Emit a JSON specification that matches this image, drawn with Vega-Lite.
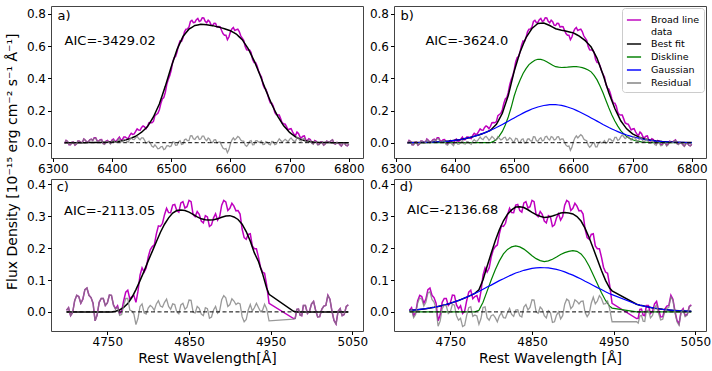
{
  "$schema": "https://vega.github.io/schema/vega-lite/v6.json",
  "background": "white",
  "padding": {"left": 5, "top": 5, "right": 5, "bottom": 5},
  "title": {"text": "Flux Density [10⁻¹⁵ erg cm⁻² s⁻¹ Å⁻¹]", "orient": "left", "anchor": "middle", "fontSize": 14, "font": "DejaVu Sans", "fontWeight": "normal", "offset": 6, "dx": 24},
  "config": {
    "font": "DejaVu Sans",
    "view": {"stroke": "#444444", "strokeWidth": 1},
    "axis": {"grid": false, "domain": false, "tickColor": "#000000", "tickSize": 3.5, "labelFontSize": 12, "labelColor": "#000000", "labelFont": "DejaVu Sans", "titleFont": "DejaVu Sans", "titleFontWeight": "normal", "titleFontSize": 14, "titleColor": "#000000", "labelPadding": 2, "labelFlush": false, "labelOverlap": false},
    "text": {"font": "DejaVu Sans", "fontSize": 13, "color": "#000000"}
  },
  "datasets": {
    "ha": [
      {"x":6320,"d":-0.005,"ra":-0.005,"rb":-0.006,"fa":0,"fb":0.0005,"dk":0,"g":0.0005},
      {"x":6325,"d":0.008,"ra":0.008,"rb":0.007,"fa":0,"fb":0.001,"dk":0,"g":0.0008},
      {"x":6330,"d":-0.012,"ra":-0.012,"rb":-0.013,"fa":0,"fb":0.001,"dk":0,"g":0.001},
      {"x":6335,"d":0.004,"ra":0.004,"rb":0.003,"fa":0,"fb":0.0012,"dk":0,"g":0.0012},
      {"x":6340,"d":-0.008,"ra":-0.008,"rb":-0.009,"fa":0,"fb":0.0014,"dk":0,"g":0.0014},
      {"x":6345,"d":0.010,"ra":0.010,"rb":0.008,"fa":0,"fb":0.0017,"dk":0,"g":0.0017},
      {"x":6350,"d":0.002,"ra":0.002,"rb":0.000,"fa":0,"fb":0.002,"dk":0,"g":0.002},
      {"x":6355,"d":0.015,"ra":0.015,"rb":0.012,"fa":0,"fb":0.0025,"dk":0,"g":0.0025},
      {"x":6360,"d":0.006,"ra":0.005,"rb":0.003,"fa":0.001,"fb":0.003,"dk":0,"g":0.003},
      {"x":6365,"d":0.022,"ra":0.021,"rb":0.018,"fa":0.001,"fb":0.004,"dk":0,"g":0.004},
      {"x":6370,"d":0.030,"ra":0.029,"rb":0.025,"fa":0.001,"fb":0.005,"dk":0,"g":0.005},
      {"x":6375,"d":0.012,"ra":0.010,"rb":0.006,"fa":0.0015,"fb":0.006,"dk":0,"g":0.006},
      {"x":6380,"d":0.018,"ra":0.016,"rb":0.011,"fa":0.002,"fb":0.007,"dk":0,"g":0.007},
      {"x":6385,"d":-0.004,"ra":-0.006,"rb":-0.012,"fa":0.0025,"fb":0.0085,"dk":0,"g":0.0085},
      {"x":6390,"d":0.010,"ra":0.007,"rb":0.000,"fa":0.003,"fb":0.010,"dk":0,"g":0.010},
      {"x":6395,"d":0.003,"ra":-0.001,"rb":-0.010,"fa":0.004,"fb":0.0125,"dk":0,"g":0.0125},
      {"x":6400,"d":0.016,"ra":0.011,"rb":0.001,"fa":0.005,"fb":0.015,"dk":0,"g":0.015},
      {"x":6405,"d":0.008,"ra":0.002,"rb":-0.010,"fa":0.0065,"fb":0.0175,"dk":0,"g":0.0175},
      {"x":6410,"d":0.024,"ra":0.016,"rb":0.004,"fa":0.008,"fb":0.020,"dk":0,"g":0.020},
      {"x":6415,"d":0.018,"ra":0.007,"rb":-0.006,"fa":0.011,"fb":0.024,"dk":0,"g":0.024},
      {"x":6420,"d":0.035,"ra":0.021,"rb":0.007,"fa":0.014,"fb":0.028,"dk":0,"g":0.028},
      {"x":6425,"d":0.028,"ra":0.009,"rb":-0.005,"fa":0.019,"fb":0.0325,"dk":0,"g":0.0325},
      {"x":6430,"d":0.046,"ra":0.022,"rb":0.009,"fa":0.024,"fb":0.037,"dk":0,"g":0.037},
      {"x":6435,"d":0.052,"ra":0.020,"rb":0.010,"fa":0.032,"fb":0.0425,"dk":0,"g":0.0425},
      {"x":6440,"d":0.070,"ra":0.030,"rb":0.022,"fa":0.04,"fb":0.048,"dk":0,"g":0.048},
      {"x":6445,"d":0.078,"ra":0.026,"rb":0.024,"fa":0.0525,"fb":0.0545,"dk":0,"g":0.0545},
      {"x":6450,"d":0.095,"ra":0.030,"rb":0.034,"fa":0.065,"fb":0.061,"dk":0,"g":0.061},
      {"x":6455,"d":0.098,"ra":0.016,"rb":0.029,"fa":0.0825,"fb":0.069,"dk":0,"g":0.069},
      {"x":6460,"d":0.102,"ra":0.002,"rb":0.025,"fa":0.10,"fb":0.077,"dk":0,"g":0.077},
      {"x":6465,"d":0.125,"ra":-0.005,"rb":0.030,"fa":0.13,"fb":0.0955,"dk":0.008,"g":0.0855},
      {"x":6470,"d":0.132,"ra":-0.028,"rb":0.018,"fa":0.16,"fb":0.114,"dk":0.02,"g":0.094},
      {"x":6475,"d":0.175,"ra":-0.025,"rb":0.027,"fa":0.20,"fb":0.1485,"dk":0.042,"g":0.1035},
      {"x":6480,"d":0.205,"ra":-0.035,"rb":0.022,"fa":0.24,"fb":0.183,"dk":0.07,"g":0.113},
      {"x":6485,"d":0.272,"ra":-0.023,"rb":0.034,"fa":0.295,"fb":0.238,"dk":0.11,"g":0.123},
      {"x":6490,"d":0.312,"ra":-0.038,"rb":0.019,"fa":0.35,"fb":0.293,"dk":0.16,"g":0.133},
      {"x":6495,"d":0.392,"ra":-0.018,"rb":0.024,"fa":0.41,"fb":0.3685,"dk":0.22,"g":0.1435},
      {"x":6500,"d":0.450,"ra":-0.020,"rb":0.006,"fa":0.47,"fb":0.444,"dk":0.29,"g":0.154},
      {"x":6505,"d":0.528,"ra":0.003,"rb":0.024,"fa":0.525,"fb":0.504,"dk":0.345,"g":0.164},
      {"x":6510,"d":0.565,"ra":-0.015,"rb":0.001,"fa":0.58,"fb":0.564,"dk":0.39,"g":0.174},
      {"x":6515,"d":0.632,"ra":0.012,"rb":0.024,"fa":0.62,"fb":0.6085,"dk":0.43,"g":0.1835},
      {"x":6520,"d":0.652,"ra":-0.008,"rb":-0.001,"fa":0.66,"fb":0.653,"dk":0.46,"g":0.193},
      {"x":6525,"d":0.705,"ra":0.023,"rb":0.024,"fa":0.6825,"fb":0.681,"dk":0.485,"g":0.201},
      {"x":6530,"d":0.718,"ra":0.013,"rb":0.009,"fa":0.705,"fb":0.709,"dk":0.50,"g":0.209},
      {"x":6535,"d":0.760,"ra":0.044,"rb":0.036,"fa":0.7165,"fb":0.7245,"dk":0.512,"g":0.2155},
      {"x":6540,"d":0.748,"ra":0.020,"rb":0.008,"fa":0.728,"fb":0.740,"dk":0.518,"g":0.222},
      {"x":6545,"d":0.772,"ra":0.040,"rb":0.031,"fa":0.7315,"fb":0.7415,"dk":0.517,"g":0.2265},
      {"x":6550,"d":0.758,"ra":0.023,"rb":0.015,"fa":0.735,"fb":0.743,"dk":0.512,"g":0.231},
      {"x":6555,"d":0.775,"ra":0.041,"rb":0.040,"fa":0.734,"fb":0.7355,"dk":0.503,"g":0.2335},
      {"x":6560,"d":0.745,"ra":0.012,"rb":0.017,"fa":0.733,"fb":0.728,"dk":0.492,"g":0.236},
      {"x":6565,"d":0.752,"ra":0.022,"rb":0.034,"fa":0.73,"fb":0.718,"dk":0.481,"g":0.236},
      {"x":6570,"d":0.728,"ra":0.001,"rb":0.020,"fa":0.727,"fb":0.708,"dk":0.472,"g":0.236},
      {"x":6575,"d":0.740,"ra":0.018,"rb":0.037,"fa":0.7225,"fb":0.7035,"dk":0.469,"g":0.234},
      {"x":6580,"d":0.722,"ra":0.004,"rb":0.023,"fa":0.718,"fb":0.699,"dk":0.467,"g":0.232},
      {"x":6585,"d":0.698,"ra":-0.015,"rb":0.003,"fa":0.713,"fb":0.695,"dk":0.468,"g":0.227},
      {"x":6590,"d":0.668,"ra":-0.040,"rb":-0.023,"fa":0.708,"fb":0.691,"dk":0.469,"g":0.222},
      {"x":6595,"d":0.640,"ra":-0.062,"rb":-0.047,"fa":0.7015,"fb":0.6865,"dk":0.471,"g":0.2155},
      {"x":6600,"d":0.688,"ra":-0.007,"rb":0.006,"fa":0.695,"fb":0.682,"dk":0.473,"g":0.209},
      {"x":6605,"d":0.715,"ra":0.030,"rb":0.043,"fa":0.685,"fb":0.672,"dk":0.472,"g":0.2005},
      {"x":6610,"d":0.702,"ra":0.027,"rb":0.040,"fa":0.675,"fb":0.662,"dk":0.47,"g":0.192},
      {"x":6615,"d":0.690,"ra":0.033,"rb":0.042,"fa":0.6575,"fb":0.648,"dk":0.466,"g":0.183},
      {"x":6620,"d":0.650,"ra":0.010,"rb":0.016,"fa":0.64,"fb":0.634,"dk":0.46,"g":0.174},
      {"x":6625,"d":0.598,"ra":-0.015,"rb":-0.016,"fa":0.6125,"fb":0.614,"dk":0.452,"g":0.164},
      {"x":6630,"d":0.575,"ra":-0.010,"rb":-0.019,"fa":0.585,"fb":0.594,"dk":0.44,"g":0.154},
      {"x":6635,"d":0.560,"ra":0.013,"rb":0.001,"fa":0.5475,"fb":0.559,"dk":0.418,"g":0.144},
      {"x":6640,"d":0.498,"ra":-0.012,"rb":-0.026,"fa":0.51,"fb":0.524,"dk":0.39,"g":0.134},
      {"x":6645,"d":0.478,"ra":0.013,"rb":0.005,"fa":0.465,"fb":0.4735,"dk":0.352,"g":0.1235},
      {"x":6650,"d":0.425,"ra":0.005,"rb":0.002,"fa":0.42,"fb":0.423,"dk":0.31,"g":0.113},
      {"x":6655,"d":0.362,"ra":-0.011,"rb":-0.004,"fa":0.3725,"fb":0.366,"dk":0.262,"g":0.1035},
      {"x":6660,"d":0.332,"ra":0.007,"rb":0.023,"fa":0.325,"fb":0.309,"dk":0.215,"g":0.094},
      {"x":6665,"d":0.272,"ra":-0.009,"rb":0.012,"fa":0.281,"fb":0.2605,"dk":0.172,"g":0.0855},
      {"x":6670,"d":0.245,"ra":0.008,"rb":0.033,"fa":0.237,"fb":0.212,"dk":0.135,"g":0.077},
      {"x":6675,"d":0.188,"ra":-0.012,"rb":0.014,"fa":0.20,"fb":0.174,"dk":0.103,"g":0.069},
      {"x":6680,"d":0.172,"ra":0.009,"rb":0.036,"fa":0.163,"fb":0.136,"dk":0.075,"g":0.061},
      {"x":6685,"d":0.148,"ra":0.014,"rb":0.037,"fa":0.134,"fb":0.111,"dk":0.055,"g":0.0545},
      {"x":6690,"d":0.118,"ra":0.013,"rb":0.032,"fa":0.105,"fb":0.086,"dk":0.038,"g":0.048},
      {"x":6695,"d":0.098,"ra":0.014,"rb":0.028,"fa":0.0845,"fb":0.0705,"dk":0.027,"g":0.0425},
      {"x":6700,"d":0.085,"ra":0.021,"rb":0.030,"fa":0.064,"fb":0.055,"dk":0.018,"g":0.037},
      {"x":6705,"d":0.068,"ra":0.018,"rb":0.023,"fa":0.05,"fb":0.0455,"dk":0.012,"g":0.0325},
      {"x":6710,"d":0.045,"ra":0.009,"rb":0.009,"fa":0.036,"fb":0.036,"dk":0.008,"g":0.028},
      {"x":6715,"d":0.058,"ra":0.031,"rb":0.029,"fa":0.0275,"fb":0.0295,"dk":0.005,"g":0.024},
      {"x":6720,"d":0.030,"ra":0.011,"rb":0.007,"fa":0.019,"fb":0.023,"dk":0.003,"g":0.020},
      {"x":6725,"d":0.042,"ra":0.028,"rb":0.023,"fa":0.014,"fb":0.0195,"dk":0.002,"g":0.0175},
      {"x":6730,"d":0.012,"ra":0.003,"rb":-0.004,"fa":0.009,"fb":0.016,"dk":0.001,"g":0.015},
      {"x":6735,"d":0.020,"ra":0.014,"rb":0.007,"fa":0.0065,"fb":0.013,"dk":0.0005,"g":0.0125},
      {"x":6740,"d":-0.006,"ra":-0.010,"rb":-0.016,"fa":0.004,"fb":0.010,"dk":0,"g":0.010},
      {"x":6745,"d":0.008,"ra":0.005,"rb":0.000,"fa":0.003,"fb":0.0085,"dk":0,"g":0.0085},
      {"x":6750,"d":-0.010,"ra":-0.012,"rb":-0.017,"fa":0.002,"fb":0.007,"dk":0,"g":0.007},
      {"x":6755,"d":0.004,"ra":0.003,"rb":-0.002,"fa":0.0015,"fb":0.006,"dk":0,"g":0.006},
      {"x":6760,"d":-0.008,"ra":-0.009,"rb":-0.013,"fa":0.001,"fb":0.005,"dk":0,"g":0.005},
      {"x":6765,"d":0.006,"ra":0.006,"rb":0.002,"fa":0.0005,"fb":0.004,"dk":0,"g":0.004},
      {"x":6770,"d":0.012,"ra":0.012,"rb":0.009,"fa":0,"fb":0.003,"dk":0,"g":0.003},
      {"x":6775,"d":-0.004,"ra":-0.004,"rb":-0.007,"fa":0,"fb":0.0025,"dk":0,"g":0.0025},
      {"x":6780,"d":0.002,"ra":0.002,"rb":0.000,"fa":0,"fb":0.002,"dk":0,"g":0.002},
      {"x":6785,"d":-0.012,"ra":-0.012,"rb":-0.014,"fa":0,"fb":0.0017,"dk":0,"g":0.0017},
      {"x":6790,"d":-0.006,"ra":-0.006,"rb":-0.007,"fa":0,"fb":0.0014,"dk":0,"g":0.0014},
      {"x":6795,"d":-0.015,"ra":-0.015,"rb":-0.016,"fa":0,"fb":0.0011,"dk":0,"g":0.0011},
      {"x":6800,"d":-0.010,"ra":-0.010,"rb":-0.011,"fa":0,"fb":0.0008,"dk":0,"g":0.0008},
      {"x":6322.5,"d":0.014,"ra":0.014,"rb":0.013},
      {"x":6327.5,"d":-0.012,"ra":-0.012,"rb":-0.013},
      {"x":6332.5,"d":0.003,"ra":0.003,"rb":0.002},
      {"x":6337.5,"d":-0.015,"ra":-0.015,"rb":-0.016},
      {"x":6342.5,"d":0.011,"ra":0.011,"rb":0.010},
      {"x":6347.5,"d":0.001,"ra":0.001,"rb":-0.001},
      {"x":6352.5,"d":0.023,"ra":0.023,"rb":0.020},
      {"x":6357.5,"d":0.003,"ra":0.002,"rb":-0.001},
      {"x":6362.5,"d":0.018,"ra":0.017,"rb":0.015},
      {"x":6367.5,"d":0.014,"ra":0.013,"rb":0.010},
      {"x":6372.5,"d":0.030,"ra":0.029,"rb":0.025},
      {"x":6377.5,"d":0.009,"ra":0.007,"rb":0.003},
      {"x":6382.5,"d":0.019,"ra":0.017,"rb":0.012},
      {"x":6387.5,"d":-0.007,"ra":-0.010,"rb":-0.016},
      {"x":6392.5,"d":0.014,"ra":0.010,"rb":0.002},
      {"x":6397.5,"d":-0.004,"ra":-0.008,"rb":-0.018},
      {"x":6402.5,"d":0.022,"ra":0.017,"rb":0.006},
      {"x":6407.5,"d":0.011,"ra":0.004,"rb":-0.008},
      {"x":6412.5,"d":0.035,"ra":0.026,"rb":0.013},
      {"x":6417.5,"d":0.019,"ra":0.006,"rb":-0.008},
      {"x":6422.5,"d":0.036,"ra":0.019,"rb":0.005},
      {"x":6427.5,"d":0.025,"ra":0.004,"rb":-0.010},
      {"x":6432.5,"d":0.058,"ra":0.030,"rb":0.019},
      {"x":6437.5,"d":0.055,"ra":0.019,"rb":0.010},
      {"x":6442.5,"d":0.086,"ra":0.040,"rb":0.035},
      {"x":6447.5,"d":0.077,"ra":0.018,"rb":0.019},
      {"x":6452.5,"d":0.104,"ra":0.030,"rb":0.039},
      {"x":6457.5,"d":0.087,"ra":-0.004,"rb":0.014},
      {"x":6462.5,"d":0.124,"ra":0.009,"rb":0.038},
      {"x":6467.5,"d":0.124,"ra":-0.022,"rb":0.019},
      {"x":6472.5,"d":0.168,"ra":-0.013,"rb":0.037},
      {"x":6477.5,"d":0.182,"ra":-0.038,"rb":0.017},
      {"x":6482.5,"d":0.243,"ra":-0.025,"rb":0.032},
      {"x":6487.5,"d":0.280,"ra":-0.043,"rb":0.015},
      {"x":6492.5,"d":0.361,"ra":-0.019,"rb":0.031},
      {"x":6497.5,"d":0.415,"ra":-0.025,"rb":0.009},
      {"x":6502.5,"d":0.501,"ra":0.004,"rb":0.027},
      {"x":6507.5,"d":0.537,"ra":-0.016,"rb":0.003},
      {"x":6512.5,"d":0.606,"ra":0.006,"rb":0.020},
      {"x":6517.5,"d":0.629,"ra":-0.011,"rb":-0.002},
      {"x":6522.5,"d":0.689,"ra":0.018,"rb":0.022},
      {"x":6527.5,"d":0.707,"ra":0.013,"rb":0.012},
      {"x":6532.5,"d":0.753,"ra":0.043,"rb":0.037},
      {"x":6537.5,"d":0.746,"ra":0.024,"rb":0.014},
      {"x":6542.5,"d":0.764,"ra":0.034,"rb":0.024},
      {"x":6547.5,"d":0.753,"ra":0.020,"rb":0.011},
      {"x":6552.5,"d":0.776,"ra":0.041,"rb":0.037},
      {"x":6557.5,"d":0.754,"ra":0.021,"rb":0.023},
      {"x":6562.5,"d":0.761,"ra":0.029,"rb":0.038},
      {"x":6567.5,"d":0.730,"ra":0.002,"rb":0.017},
      {"x":6572.5,"d":0.741,"ra":0.017,"rb":0.036},
      {"x":6577.5,"d":0.718,"ra":-0.002,"rb":0.017},
      {"x":6582.5,"d":0.720,"ra":0.005,"rb":0.023},
      {"x":6587.5,"d":0.678,"ra":-0.033,"rb":-0.015},
      {"x":6592.5,"d":0.668,"ra":-0.037,"rb":-0.021},
      {"x":6597.5,"d":0.656,"ra":-0.043,"rb":-0.029},
      {"x":6602.5,"d":0.706,"ra":0.016,"rb":0.029},
      {"x":6607.5,"d":0.697,"ra":0.017,"rb":0.030},
      {"x":6612.5,"d":0.705,"ra":0.039,"rb":0.050},
      {"x":6617.5,"d":0.664,"ra":0.016,"rb":0.023},
      {"x":6622.5,"d":0.636,"ra":0.010,"rb":0.012},
      {"x":6627.5,"d":0.577,"ra":-0.023,"rb":-0.028},
      {"x":6632.5,"d":0.575,"ra":0.009,"rb":-0.002},
      {"x":6637.5,"d":0.516,"ra":-0.013,"rb":-0.026},
      {"x":6642.5,"d":0.498,"ra":0.011,"rb":-0.001},
      {"x":6647.5,"d":0.447,"ra":0.004,"rb":-0.002},
      {"x":6652.5,"d":0.408,"ra":0.011,"rb":0.013},
      {"x":6657.5,"d":0.339,"ra":-0.010,"rb":0.002},
      {"x":6662.5,"d":0.306,"ra":0.003,"rb":0.022},
      {"x":6667.5,"d":0.247,"ra":-0.013,"rb":0.011},
      {"x":6672.5,"d":0.226,"ra":0.007,"rb":0.033},
      {"x":6677.5,"d":0.174,"ra":-0.008,"rb":0.019},
      {"x":6682.5,"d":0.172,"ra":0.024,"rb":0.049},
      {"x":6687.5,"d":0.123,"ra":0.004,"rb":0.025},
      {"x":6692.5,"d":0.115,"ra":0.021,"rb":0.037},
      {"x":6697.5,"d":0.079,"ra":0.005,"rb":0.016},
      {"x":6702.5,"d":0.087,"ra":0.030,"rb":0.037},
      {"x":6707.5,"d":0.052,"ra":0.009,"rb":0.011},
      {"x":6712.5,"d":0.066,"ra":0.034,"rb":0.033},
      {"x":6717.5,"d":0.036,"ra":0.013,"rb":0.010},
      {"x":6722.5,"d":0.040,"ra":0.024,"rb":0.019},
      {"x":6727.5,"d":0.015,"ra":0.004,"rb":-0.003},
      {"x":6732.5,"d":0.025,"ra":0.018,"rb":0.011},
      {"x":6737.5,"d":0.001,"ra":-0.004,"rb":-0.011},
      {"x":6742.5,"d":0.013,"ra":0.010,"rb":0.004},
      {"x":6747.5,"d":-0.011,"ra":-0.014,"rb":-0.019},
      {"x":6752.5,"d":0.004,"ra":0.003,"rb":-0.003},
      {"x":6757.5,"d":-0.015,"ra":-0.016,"rb":-0.021},
      {"x":6762.5,"d":0.009,"ra":0.009,"rb":0.005},
      {"x":6767.5,"d":0.004,"ra":0.004,"rb":0.001},
      {"x":6772.5,"d":0.018,"ra":0.018,"rb":0.015},
      {"x":6777.5,"d":-0.009,"ra":-0.009,"rb":-0.012},
      {"x":6782.5,"d":-0.001,"ra":-0.001,"rb":-0.003},
      {"x":6787.5,"d":-0.021,"ra":-0.021,"rb":-0.023},
      {"x":6792.5,"d":-0.002,"ra":-0.002,"rb":-0.003},
      {"x":6797.5,"d":-0.019,"ra":-0.019,"rb":-0.020}
    ],
    "hb": [
      {"x":4700,"d":0.005,"rc":0.005,"rd":0.000,"fc":0,"fd":0.0046,"dk":0,"g":0.0046},
      {"x":4705,"d":-0.012,"rc":-0.012,"rd":-0.018,"fc":0,"fd":0.0057,"dk":0,"g":0.0057},
      {"x":4710,"d":0.035,"rc":0.035,"rd":0.028,"fc":0,"fd":0.0069,"dk":0,"g":0.0069},
      {"x":4715,"d":0.048,"rc":0.048,"rd":0.040,"fc":0,"fd":0.0084,"dk":0,"g":0.0084},
      {"x":4720,"d":0.040,"rc":0.040,"rd":0.030,"fc":0,"fd":0.0101,"dk":0,"g":0.0101},
      {"x":4725,"d":0.075,"rc":0.075,"rd":0.063,"fc":0,"fd":0.0121,"dk":0,"g":0.0121},
      {"x":4730,"d":0.045,"rc":0.045,"rd":0.031,"fc":0,"fd":0.0144,"dk":0,"g":0.0144},
      {"x":4735,"d":-0.028,"rc":-0.028,"rd":-0.045,"fc":0,"fd":0.017,"dk":0,"g":0.017},
      {"x":4740,"d":0.030,"rc":0.030,"rd":0.010,"fc":0,"fd":0.020,"dk":0,"g":0.020},
      {"x":4745,"d":0.042,"rc":0.042,"rd":0.019,"fc":0,"fd":0.0234,"dk":0,"g":0.0234},
      {"x":4750,"d":0.028,"rc":0.028,"rd":0.001,"fc":0,"fd":0.0272,"dk":0,"g":0.0272},
      {"x":4755,"d":0.052,"rc":0.052,"rd":0.021,"fc":0,"fd":0.0314,"dk":0,"g":0.0314},
      {"x":4760,"d":0.010,"rc":0.008,"rd":-0.026,"fc":0.002,"fd":0.0359,"dk":0,"g":0.0359},
      {"x":4765,"d":-0.005,"rc":-0.011,"rd":-0.046,"fc":0.006,"fd":0.0409,"dk":0,"g":0.0409},
      {"x":4770,"d":0.035,"rc":0.021,"rd":-0.011,"fc":0.014,"fd":0.0462,"dk":0,"g":0.0462},
      {"x":4775,"d":0.068,"rc":0.042,"rd":0.016,"fc":0.026,"fd":0.052,"dk":0,"g":0.052},
      {"x":4780,"d":0.048,"rc":0.003,"rd":-0.010,"fc":0.045,"fd":0.058,"dk":0,"g":0.058},
      {"x":4785,"d":0.030,"rc":-0.040,"rd":-0.039,"fc":0.07,"fd":0.069,"dk":0.005,"g":0.064},
      {"x":4790,"d":0.115,"rc":0.017,"rd":0.014,"fc":0.098,"fd":0.101,"dk":0.03,"g":0.071},
      {"x":4795,"d":0.125,"rc":-0.003,"rd":-0.018,"fc":0.128,"fd":0.143,"dk":0.065,"g":0.078},
      {"x":4800,"d":0.172,"rc":0.012,"rd":-0.012,"fc":0.16,"fd":0.184,"dk":0.10,"g":0.084},
      {"x":4805,"d":0.205,"rc":0.015,"rd":-0.018,"fc":0.19,"fd":0.223,"dk":0.132,"g":0.091},
      {"x":4810,"d":0.245,"rc":0.025,"rd":-0.013,"fc":0.22,"fd":0.258,"dk":0.16,"g":0.098},
      {"x":4815,"d":0.268,"rc":0.018,"rd":-0.018,"fc":0.25,"fd":0.286,"dk":0.182,"g":0.104},
      {"x":4820,"d":0.305,"rc":0.030,"rd":-0.002,"fc":0.275,"fd":0.3065,"dk":0.196,"g":0.1105},
      {"x":4825,"d":0.312,"rc":0.017,"rd":-0.008,"fc":0.295,"fd":0.32,"dk":0.204,"g":0.116},
      {"x":4830,"d":0.335,"rc":0.025,"rd":0.006,"fc":0.31,"fd":0.329,"dk":0.207,"g":0.122},
      {"x":4835,"d":0.318,"rc":0.000,"rd":-0.012,"fc":0.318,"fd":0.33,"dk":0.204,"g":0.126},
      {"x":4840,"d":0.342,"rc":0.022,"rd":0.015,"fc":0.32,"fd":0.3275,"dk":0.197,"g":0.1305},
      {"x":4845,"d":0.326,"rc":0.008,"rd":0.006,"fc":0.318,"fd":0.3205,"dk":0.187,"g":0.1335},
      {"x":4850,"d":0.350,"rc":0.037,"rd":0.038,"fc":0.313,"fd":0.3124,"dk":0.176,"g":0.1364},
      {"x":4855,"d":0.305,"rc":-0.001,"rd":0.000,"fc":0.306,"fd":0.305,"dk":0.167,"g":0.138},
      {"x":4860,"d":0.315,"rc":0.017,"rd":0.015,"fc":0.298,"fd":0.300,"dk":0.161,"g":0.139},
      {"x":4865,"d":0.285,"rc":-0.007,"rd":-0.012,"fc":0.292,"fd":0.2965,"dk":0.158,"g":0.1385},
      {"x":4870,"d":0.302,"rc":0.013,"rd":0.004,"fc":0.289,"fd":0.2978,"dk":0.16,"g":0.1378},
      {"x":4875,"d":0.268,"rc":-0.020,"rd":-0.033,"fc":0.288,"fd":0.301,"dk":0.165,"g":0.136},
      {"x":4880,"d":0.295,"rc":0.006,"rd":-0.010,"fc":0.289,"fd":0.3053,"dk":0.172,"g":0.1333},
      {"x":4885,"d":0.288,"rc":-0.004,"rd":-0.022,"fc":0.292,"fd":0.31,"dk":0.18,"g":0.13},
      {"x":4890,"d":0.335,"rc":0.038,"rd":0.024,"fc":0.297,"fd":0.3115,"dk":0.186,"g":0.1255},
      {"x":4895,"d":0.345,"rc":0.044,"rd":0.035,"fc":0.301,"fd":0.31,"dk":0.19,"g":0.12},
      {"x":4900,"d":0.325,"rc":0.023,"rd":0.018,"fc":0.302,"fd":0.3072,"dk":0.192,"g":0.1152},
      {"x":4905,"d":0.332,"rc":0.034,"rd":0.033,"fc":0.298,"fd":0.299,"dk":0.19,"g":0.109},
      {"x":4910,"d":0.318,"rc":0.028,"rd":0.033,"fc":0.29,"fd":0.285,"dk":0.182,"g":0.103},
      {"x":4915,"d":0.260,"rc":-0.015,"rd":-0.002,"fc":0.275,"fd":0.262,"dk":0.166,"g":0.096},
      {"x":4920,"d":0.228,"rc":-0.024,"rd":-0.005,"fc":0.252,"fd":0.2327,"dk":0.143,"g":0.0897},
      {"x":4925,"d":0.245,"rc":0.023,"rd":0.046,"fc":0.222,"fd":0.199,"dk":0.116,"g":0.083},
      {"x":4930,"d":0.198,"rc":0.013,"rd":0.034,"fc":0.185,"fd":0.1642,"dk":0.088,"g":0.0762},
      {"x":4935,"d":0.172,"rc":0.014,"rd":0.042,"fc":0.158,"fd":0.13,"dk":0.06,"g":0.07},
      {"x":4940,"d":0.125,"rc":0.005,"rd":0.026,"fc":0.12,"fd":0.099,"dk":0.036,"g":0.063},
      {"x":4945,"d":0.085,"rc":0.010,"rd":0.010,"fc":0.075,"fd":0.075,"dk":0.018,"g":0.057},
      {"x":4948,"d":0.027,"rc":-0.028,"rd":-0.031,"fc":0.055,"fd":0.066,"dk":0.012,"g":0.054},
      {"x":4978,"d":-0.021,"rc":-0.023,"rd":-0.031,"fc":0.002,"fd":0.024,"dk":0,"g":0.024},
      {"x":4982,"d":0.008,"rc":0.008,"rd":-0.013,"fc":0,"fd":0.021,"dk":0,"g":0.021},
      {"x":4986,"d":-0.010,"rc":-0.010,"rd":-0.029,"fc":0,"fd":0.019,"dk":0,"g":0.019},
      {"x":4990,"d":0.020,"rc":0.020,"rd":0.004,"fc":0,"fd":0.0165,"dk":0,"g":0.0165},
      {"x":4995,"d":-0.005,"rc":-0.005,"rd":-0.019,"fc":0,"fd":0.014,"dk":0,"g":0.014},
      {"x":5000,"d":0.025,"rc":0.025,"rd":0.013,"fc":0,"fd":0.0117,"dk":0,"g":0.0117},
      {"x":5005,"d":0.005,"rc":0.005,"rd":-0.005,"fc":0,"fd":0.0098,"dk":0,"g":0.0098},
      {"x":5010,"d":-0.015,"rc":-0.015,"rd":-0.023,"fc":0,"fd":0.008,"dk":0,"g":0.008},
      {"x":5015,"d":0.018,"rc":0.018,"rd":0.011,"fc":0,"fd":0.0066,"dk":0,"g":0.0066},
      {"x":5020,"d":0.052,"rc":0.052,"rd":0.047,"fc":0,"fd":0.0054,"dk":0,"g":0.0054},
      {"x":5025,"d":0.002,"rc":0.002,"rd":-0.002,"fc":0,"fd":0.0044,"dk":0,"g":0.0044},
      {"x":5030,"d":-0.038,"rc":-0.038,"rd":-0.042,"fc":0,"fd":0.0035,"dk":0,"g":0.0035},
      {"x":5035,"d":0.010,"rc":0.010,"rd":0.007,"fc":0,"fd":0.0029,"dk":0,"g":0.0029},
      {"x":5040,"d":-0.008,"rc":-0.008,"rd":-0.010,"fc":0,"fd":0.0023,"dk":0,"g":0.0023},
      {"x":5045,"d":0.022,"rc":0.022,"rd":0.020,"fc":0,"fd":0.0018,"dk":0,"g":0.0018},
      {"x":4702.5,"d":0.013,"rc":0.013,"rd":0.007},
      {"x":4707.5,"d":-0.002,"rc":-0.002,"rd":-0.008},
      {"x":4712.5,"d":0.052,"rc":0.052,"rd":0.044},
      {"x":4717.5,"d":0.027,"rc":0.027,"rd":0.018},
      {"x":4722.5,"d":0.070,"rc":0.070,"rd":0.059},
      {"x":4727.5,"d":0.052,"rc":0.052,"rd":0.039},
      {"x":4732.5,"d":0.027,"rc":0.027,"rd":0.011},
      {"x":4737.5,"d":-0.010,"rc":-0.010,"rd":-0.029},
      {"x":4742.5,"d":0.042,"rc":0.042,"rd":0.021},
      {"x":4747.5,"d":0.020,"rc":0.020,"rd":-0.005},
      {"x":4752.5,"d":0.053,"rc":0.053,"rd":0.024},
      {"x":4757.5,"d":0.022,"rc":0.021,"rd":-0.012},
      {"x":4762.5,"d":0.019,"rc":0.015,"rd":-0.020},
      {"x":4767.5,"d":0.002,"rc":-0.008,"rd":-0.042},
      {"x":4772.5,"d":0.062,"rc":0.042,"rd":0.013},
      {"x":4777.5,"d":0.041,"rc":0.006,"rd":-0.014},
      {"x":4782.5,"d":0.051,"rc":-0.007,"rd":-0.013},
      {"x":4787.5,"d":0.065,"rc":-0.020,"rd":-0.021},
      {"x":4792.5,"d":0.138,"rc":0.025,"rd":0.016},
      {"x":4797.5,"d":0.138,"rc":-0.007,"rd":-0.026},
      {"x":4802.5,"d":0.195,"rc":0.020,"rd":-0.009},
      {"x":4807.5,"d":0.210,"rc":0.005,"rd":-0.031},
      {"x":4812.5,"d":0.270,"rc":0.035,"rd":-0.003},
      {"x":4817.5,"d":0.278,"rc":0.015,"rd":-0.019},
      {"x":4822.5,"d":0.325,"rc":0.040,"rd":0.011},
      {"x":4827.5,"d":0.311,"rc":0.008,"rd":-0.014},
      {"x":4832.5,"d":0.337,"rc":0.023,"rd":0.007},
      {"x":4837.5,"d":0.313,"rc":-0.006,"rd":-0.016},
      {"x":4842.5,"d":0.346,"rc":0.027,"rd":0.023},
      {"x":4847.5,"d":0.330,"rc":0.015,"rd":0.014},
      {"x":4852.5,"d":0.346,"rc":0.036,"rd":0.037},
      {"x":4857.5,"d":0.299,"rc":-0.003,"rd":-0.004},
      {"x":4862.5,"d":0.306,"rc":0.011,"rd":0.008},
      {"x":4867.5,"d":0.279,"rc":-0.012,"rd":-0.019},
      {"x":4872.5,"d":0.298,"rc":0.010,"rd":-0.002},
      {"x":4877.5,"d":0.273,"rc":-0.016,"rd":-0.031},
      {"x":4882.5,"d":0.308,"rc":0.017,"rd":0.000},
      {"x":4887.5,"d":0.299,"rc":0.004,"rd":-0.012},
      {"x":4892.5,"d":0.350,"rc":0.051,"rd":0.040},
      {"x":4897.5,"d":0.318,"rc":0.017,"rd":0.010},
      {"x":4902.5,"d":0.341,"rc":0.041,"rd":0.038},
      {"x":4907.5,"d":0.317,"rc":0.023,"rd":0.025},
      {"x":4912.5,"d":0.307,"rc":0.025,"rd":0.034},
      {"x":4917.5,"d":0.233,"rc":-0.031,"rd":-0.015},
      {"x":4922.5,"d":0.243,"rc":0.006,"rd":0.027},
      {"x":4927.5,"d":0.207,"rc":0.003,"rd":0.025},
      {"x":4932.5,"d":0.198,"rc":0.027,"rd":0.051},
      {"x":4937.5,"d":0.140,"rc":0.001,"rd":0.025},
      {"x":4942.5,"d":0.121,"rc":0.024,"rd":0.034},
      {"x":4980,"d":-0.020,"rc":-0.021,"rd":-0.035},
      {"x":4984,"d":0.009,"rc":0.009,"rd":-0.011},
      {"x":4988,"d":-0.012,"rc":-0.012,"rd":-0.030},
      {"x":4992.5,"d":0.020,"rc":0.020,"rd":0.005},
      {"x":4997.5,"d":0.002,"rc":0.002,"rd":-0.011},
      {"x":5002.5,"d":0.033,"rc":0.033,"rd":0.022},
      {"x":5007.5,"d":-0.016,"rc":-0.016,"rd":-0.025},
      {"x":5012.5,"d":0.008,"rc":0.008,"rd":0.000},
      {"x":5017.5,"d":0.020,"rc":0.020,"rd":0.014},
      {"x":5022.5,"d":0.040,"rc":0.040,"rd":0.036},
      {"x":5027.5,"d":-0.027,"rc":-0.027,"rd":-0.031},
      {"x":5032.5,"d":0.002,"rc":0.002,"rd":-0.002},
      {"x":5037.5,"d":-0.012,"rc":-0.012,"rd":-0.015},
      {"x":5042.5,"d":0.017,"rc":0.017,"rd":0.015}
    ]
  },
  "columns": 2,
  "spacing": {"row": 21, "column": 31},
  "bounds": "flush",
  "resolve": {"scale": {"color": "independent"}, "legend": {"color": "independent"}},
  "concat": [
    {
      "width": 312, "height": 152,
      "data": {"name": "ha"},
      "encoding": {"x": {"field": "x", "type": "quantitative", "title": null, "scale": {"domain": [6297, 6824], "nice": false, "zero": false}, "axis": {"values": [6300, 6400, 6500, 6600, 6700, 6800], "format": "d"}}},
      "layer": [
        {"mark": {"type": "line", "strokeWidth": 1.5}, "encoding": {"y": {"field": "d", "type": "quantitative", "title": null, "scale": {"domain": [-0.095, 0.849], "nice": false, "zero": false}, "axis": {"values": [0, 0.2, 0.4, 0.6, 0.8], "tickCount": 5, "labelOverlap": false, "format": ".1f"}}, "color": {"datum": "Broad line data", "scale": {"domain": ["Broad line data", "Best fit", "Diskline", "Gaussian", "Residual"], "range": ["#bf00bf", "#000000", "#008000", "#0000ff", "#808080"]}, "legend": null}}},
        {"transform": [{"filter": "isValid(datum.fa)"}], "mark": {"type": "line", "strokeWidth": 1.5}, "encoding": {"y": {"field": "fa", "type": "quantitative", "title": null}, "color": {"datum": "Best fit"}}},
        {"mark": {"type": "line", "strokeWidth": 1.3, "opacity": 0.8}, "encoding": {"y": {"field": "ra", "type": "quantitative", "title": null}, "color": {"datum": "Residual"}}},
        {"transform": [{"filter": "isValid(datum.fa)"}], "mark": {"type": "line", "strokeWidth": 1, "strokeDash": [4, 2.5], "color": "#000000"}, "encoding": {"y": {"datum": 0}}},
        {"transform": [{"filter": "datum.x == 6320"}], "mark": {"type": "text", "align": "left", "baseline": "middle", "fontSize": 13, "color": "#000000"}, "encoding": {"x": {"datum": 6308}, "y": {"datum": 0.786}, "text": {"value": "a)"}}},
        {"transform": [{"filter": "datum.x == 6320"}], "mark": {"type": "text", "align": "left", "baseline": "middle", "fontSize": 13, "color": "#000000"}, "encoding": {"x": {"datum": 6320}, "y": {"datum": 0.632}, "text": {"value": "AIC=-3429.02"}}}
      ]
    },
    {
      "width": 312, "height": 152,
      "data": {"name": "ha"},
      "encoding": {"x": {"field": "x", "type": "quantitative", "title": null, "scale": {"domain": [6297, 6824], "nice": false, "zero": false}, "axis": {"values": [6300, 6400, 6500, 6600, 6700, 6800], "format": "d"}}},
      "layer": [
        {"mark": {"type": "line", "strokeWidth": 1.5}, "encoding": {"y": {"field": "d", "type": "quantitative", "title": null, "scale": {"domain": [-0.095, 0.849], "nice": false, "zero": false}, "axis": {"values": [0, 0.2, 0.4, 0.6, 0.8], "tickCount": 5, "labelOverlap": false, "format": ".1f"}}, "color": {"datum": "Broad line data", "scale": {"domain": ["Broad line data", "Best fit", "Diskline", "Gaussian", "Residual"], "range": ["#bf00bf", "#000000", "#008000", "#0000ff", "#808080"]}, "legend": {"orient": "top-right", "title": null, "offset": 2, "symbolType": "stroke", "symbolStrokeWidth": 1.8, "symbolSize": 200, "labelFontSize": 9.5, "labelFont": "DejaVu Sans", "labelColor": "#000000", "labelOffset": 9, "strokeColor": "#cccccc", "fillColor": "#ffffff", "cornerRadius": 3, "padding": 4, "rowPadding": 0, "labelExpr": "datum.label == 'Broad line data' ? ['Broad line', ' data'] : datum.label"}}}},
        {"transform": [{"filter": "isValid(datum.fb)"}], "mark": {"type": "line", "strokeWidth": 1.5}, "encoding": {"y": {"field": "fb", "type": "quantitative", "title": null}, "color": {"datum": "Best fit"}}},
        {"transform": [{"filter": "isValid(datum.dk)"}], "mark": {"type": "line", "strokeWidth": 1.2}, "encoding": {"y": {"field": "dk", "type": "quantitative", "title": null}, "color": {"datum": "Diskline"}}},
        {"transform": [{"filter": "isValid(datum.g)"}], "mark": {"type": "line", "strokeWidth": 1.2}, "encoding": {"y": {"field": "g", "type": "quantitative", "title": null}, "color": {"datum": "Gaussian"}}},
        {"mark": {"type": "line", "strokeWidth": 1.3, "opacity": 0.8}, "encoding": {"y": {"field": "rb", "type": "quantitative", "title": null}, "color": {"datum": "Residual"}}},
        {"transform": [{"filter": "isValid(datum.fb)"}], "mark": {"type": "line", "strokeWidth": 1, "strokeDash": [4, 2.5], "color": "#000000"}, "encoding": {"y": {"datum": 0}}},
        {"transform": [{"filter": "datum.x == 6320"}], "mark": {"type": "text", "align": "left", "baseline": "middle", "fontSize": 13, "color": "#000000"}, "encoding": {"x": {"datum": 6308}, "y": {"datum": 0.786}, "text": {"value": "b)"}}},
        {"transform": [{"filter": "datum.x == 6320"}], "mark": {"type": "text", "align": "left", "baseline": "middle", "fontSize": 13, "color": "#000000"}, "encoding": {"x": {"datum": 6350}, "y": {"datum": 0.632}, "text": {"value": "AIC=-3624.0"}}}
      ]
    },
    {
      "width": 312, "height": 152,
      "data": {"name": "hb"},
      "encoding": {"x": {"field": "x", "type": "quantitative", "title": "Rest Wavelength[Å]", "scale": {"domain": [4681, 5063], "nice": false, "zero": false}, "axis": {"values": [4750, 4850, 4950, 5050], "format": "d", "titlePadding": 4}}},
      "layer": [
        {"mark": {"type": "line", "strokeWidth": 1.5}, "encoding": {"y": {"field": "d", "type": "quantitative", "title": null, "scale": {"domain": [-0.06, 0.417], "nice": false, "zero": false}, "axis": {"values": [0, 0.1, 0.2, 0.3, 0.4], "tickCount": 5, "labelOverlap": false, "format": ".1f"}}, "color": {"datum": "Broad line data", "scale": {"domain": ["Broad line data", "Best fit", "Diskline", "Gaussian", "Residual"], "range": ["#bf00bf", "#000000", "#008000", "#0000ff", "#808080"]}, "legend": null}}},
        {"transform": [{"filter": "isValid(datum.fc)"}], "mark": {"type": "line", "strokeWidth": 1.5}, "encoding": {"y": {"field": "fc", "type": "quantitative", "title": null}, "color": {"datum": "Best fit"}}},
        {"mark": {"type": "line", "strokeWidth": 1.3, "opacity": 0.8}, "encoding": {"y": {"field": "rc", "type": "quantitative", "title": null}, "color": {"datum": "Residual"}}},
        {"transform": [{"filter": "isValid(datum.fc)"}], "mark": {"type": "line", "strokeWidth": 1, "strokeDash": [4, 2.5], "color": "#000000"}, "encoding": {"y": {"datum": 0}}},
        {"transform": [{"filter": "datum.x == 4700"}], "mark": {"type": "text", "align": "left", "baseline": "middle", "fontSize": 13, "color": "#000000"}, "encoding": {"x": {"datum": 4688}, "y": {"datum": 0.393}, "text": {"value": "c)"}}},
        {"transform": [{"filter": "datum.x == 4700"}], "mark": {"type": "text", "align": "left", "baseline": "middle", "fontSize": 13, "color": "#000000"}, "encoding": {"x": {"datum": 4697}, "y": {"datum": 0.316}, "text": {"value": "AIC=-2113.05"}}}
      ]
    },
    {
      "width": 312, "height": 152,
      "data": {"name": "hb"},
      "encoding": {"x": {"field": "x", "type": "quantitative", "title": "Rest Wavelength [Å]", "scale": {"domain": [4681, 5063], "nice": false, "zero": false}, "axis": {"values": [4750, 4850, 4950, 5050], "format": "d", "titlePadding": 4}}},
      "layer": [
        {"mark": {"type": "line", "strokeWidth": 1.5}, "encoding": {"y": {"field": "d", "type": "quantitative", "title": null, "scale": {"domain": [-0.06, 0.417], "nice": false, "zero": false}, "axis": {"values": [0, 0.1, 0.2, 0.3, 0.4], "tickCount": 5, "labelOverlap": false, "format": ".1f"}}, "color": {"datum": "Broad line data", "scale": {"domain": ["Broad line data", "Best fit", "Diskline", "Gaussian", "Residual"], "range": ["#bf00bf", "#000000", "#008000", "#0000ff", "#808080"]}, "legend": null}}},
        {"transform": [{"filter": "isValid(datum.fd)"}], "mark": {"type": "line", "strokeWidth": 1.5}, "encoding": {"y": {"field": "fd", "type": "quantitative", "title": null}, "color": {"datum": "Best fit"}}},
        {"transform": [{"filter": "isValid(datum.dk)"}], "mark": {"type": "line", "strokeWidth": 1.2}, "encoding": {"y": {"field": "dk", "type": "quantitative", "title": null}, "color": {"datum": "Diskline"}}},
        {"transform": [{"filter": "isValid(datum.g)"}], "mark": {"type": "line", "strokeWidth": 1.2}, "encoding": {"y": {"field": "g", "type": "quantitative", "title": null}, "color": {"datum": "Gaussian"}}},
        {"mark": {"type": "line", "strokeWidth": 1.3, "opacity": 0.8}, "encoding": {"y": {"field": "rd", "type": "quantitative", "title": null}, "color": {"datum": "Residual"}}},
        {"transform": [{"filter": "isValid(datum.fd)"}], "mark": {"type": "line", "strokeWidth": 1, "strokeDash": [4, 2.5], "color": "#000000"}, "encoding": {"y": {"datum": 0}}},
        {"transform": [{"filter": "datum.x == 4700"}], "mark": {"type": "text", "align": "left", "baseline": "middle", "fontSize": 13, "color": "#000000"}, "encoding": {"x": {"datum": 4688}, "y": {"datum": 0.393}, "text": {"value": "d)"}}},
        {"transform": [{"filter": "datum.x == 4700"}], "mark": {"type": "text", "align": "left", "baseline": "middle", "fontSize": 13, "color": "#000000"}, "encoding": {"x": {"datum": 4697}, "y": {"datum": 0.319}, "text": {"value": "AIC=-2136.68"}}}
      ]
    }
  ]
}
